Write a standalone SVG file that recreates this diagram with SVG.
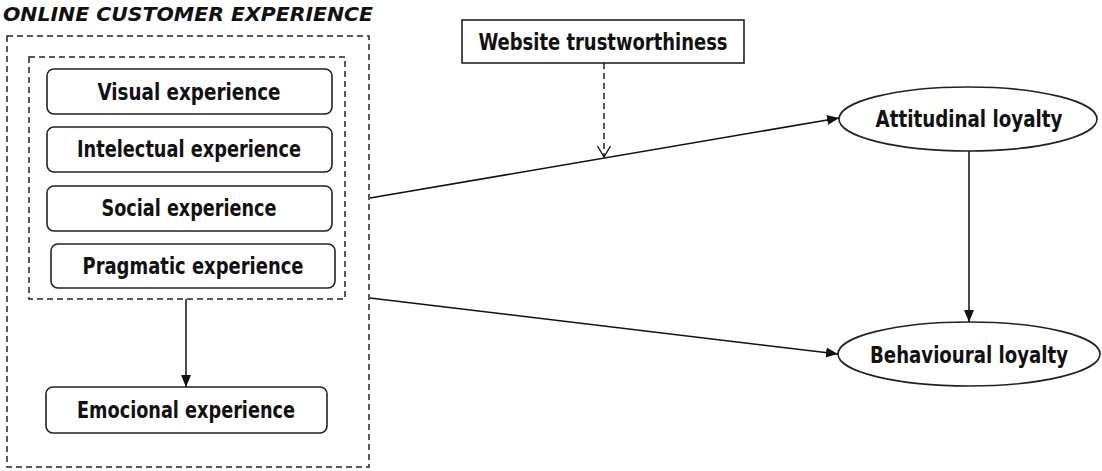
<svg xmlns="http://www.w3.org/2000/svg" width="1102" height="471" viewBox="0 0 1102 471">
<style>
.bg{fill:#fff}
.dash{fill:none;stroke:#222;stroke-width:1.5;stroke-dasharray:6,4}
.box{fill:#fff;stroke:#222;stroke-width:1.6}
.lbl{font-family:"DejaVu Sans Condensed","DejaVu Sans",sans-serif;font-stretch:condensed;font-weight:bold;font-size:23px;fill:#111;text-anchor:middle}
.title{font-family:"DejaVu Sans","Liberation Sans",sans-serif;font-weight:bold;font-style:italic;font-size:19px;fill:#111}
.conn{fill:none;stroke:#111;stroke-width:1.5}
.conn-d{fill:none;stroke:#111;stroke-width:1.4;stroke-dasharray:6,4}
</style>
<defs>
<marker id="arr" viewBox="0 0 12 12" refX="12" refY="6" markerWidth="12" markerHeight="12" markerUnits="userSpaceOnUse" orient="auto">
<path d="M0,1 L12,6 L0,11 Z" fill="#111"/>
</marker>
<marker id="open" viewBox="0 0 12 14" refX="11" refY="7" markerWidth="12" markerHeight="14" markerUnits="userSpaceOnUse" orient="auto">
<path d="M0,0.5 L11,7 L0,13.5" fill="none" stroke="#111" stroke-width="1.3"/>
</marker>
</defs>
<rect class="bg" x="0" y="0" width="1102" height="471"/>
<text class="title" x="3" y="21" textLength="370" lengthAdjust="spacingAndGlyphs">ONLINE CUSTOMER EXPERIENCE</text>
<g id="online-customer-experience">
<rect class="dash" x="7" y="36" width="362" height="431"/>
</g>
<g id="experience-group">
<rect class="dash" x="29" y="57" width="316" height="242"/>
</g>
<g id="visual">
<rect class="box" x="47" y="69" width="285" height="45" rx="7"/>
<text class="lbl" x="189" y="100" textLength="183" lengthAdjust="spacingAndGlyphs">Visual experience</text>
</g>
<g id="intelectual">
<rect class="box" x="47" y="127" width="285" height="45" rx="7"/>
<text class="lbl" x="189" y="157" textLength="224" lengthAdjust="spacingAndGlyphs">Intelectual experience</text>
</g>
<g id="social">
<rect class="box" x="47" y="186" width="285" height="45" rx="7"/>
<text class="lbl" x="189" y="216" textLength="175" lengthAdjust="spacingAndGlyphs">Social experience</text>
</g>
<g id="pragmatic">
<rect class="box" x="51" y="244" width="284" height="44" rx="7"/>
<text class="lbl" x="193" y="274" textLength="221" lengthAdjust="spacingAndGlyphs">Pragmatic experience</text>
</g>
<g id="emocional">
<rect class="box" x="46" y="387" width="281" height="46" rx="7"/>
<text class="lbl" x="186" y="418" textLength="218" lengthAdjust="spacingAndGlyphs">Emocional experience</text>
</g>
<g id="website-trustworthiness">
<rect class="box" x="462" y="20" width="282" height="43"/>
<text class="lbl" x="603" y="50" textLength="249" lengthAdjust="spacingAndGlyphs">Website trustworthiness</text>
</g>
<g id="attitudinal-loyalty">
<ellipse class="box" cx="968" cy="119" rx="129" ry="32"/>
<text class="lbl" x="969" y="127" textLength="187" lengthAdjust="spacingAndGlyphs">Attitudinal loyalty</text>
</g>
<g id="behavioural-loyalty">
<ellipse class="box" cx="969" cy="354" rx="131" ry="32"/>
<text class="lbl" x="969" y="363" textLength="198" lengthAdjust="spacingAndGlyphs">Behavioural loyalty</text>
</g>
<g id="connectors">
<line class="conn" x1="186" y1="299" x2="186" y2="387" marker-end="url(#arr)"/>
<line class="conn" x1="370" y1="198" x2="839" y2="118" marker-end="url(#arr)"/>
<line class="conn" x1="370" y1="298" x2="838" y2="354" marker-end="url(#arr)"/>
<line class="conn" x1="969" y1="151" x2="969" y2="322" marker-end="url(#arr)"/>
<line class="conn-d" x1="604" y1="63" x2="604" y2="157" marker-end="url(#open)"/>
</g>
</svg>
